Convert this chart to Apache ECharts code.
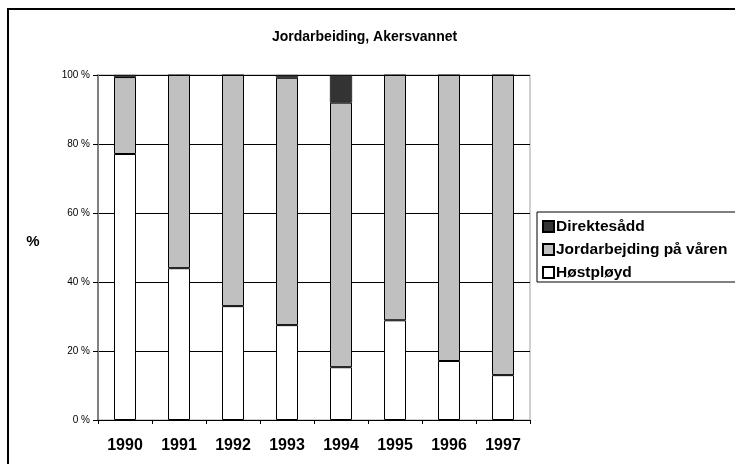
<!DOCTYPE html>
<html>
<head>
<meta charset="utf-8">
<script src="https://cdn.jsdelivr.net/npm/echarts@6/dist/echarts.min.js"></script>
<style>
  html, body { margin: 0; padding: 0; background: #fff; }
  #chart { width: 735px; height: 464px; }
</style>
</head>
<body>
<div id="chart"></div>
<script>
var years = ['1990', '1991', '1992', '1993', '1994', '1995', '1996', '1997'];
var hostployd = [77.1, 44.0, 33.0, 27.5, 15.3, 28.9, 17.1, 13.0];
var varen = [22.3, 56.0, 67.0, 71.7, 76.7, 71.1, 82.9, 87.0];
var direktesadd = [0.6, 0, 0, 0.8, 8.0, 0, 0, 0];
var yTicks = [0, 20, 40, 60, 80, 100];

var myChart = echarts.init(document.getElementById('chart'));

var font = 'Liberation Sans, Arial, sans-serif';
var barBorder = { borderColor: '#000', borderWidth: 1 };

var option = {
    animation: false,
    backgroundColor: '#fff',
    title: {
        text: 'Jordarbeiding, Akersvannet',
        left: 272,
        top: 30,
        padding: 0,
        textStyle: { fontFamily: font, fontSize: 14, fontWeight: 'bold', color: '#000' }
    },
    legend: {
        orient: 'vertical',
        left: 542,
        top: 218,
        padding: 0,
        itemWidth: 11,
        itemHeight: 11,
        itemGap: 6,
        icon: 'rect',
        data: ['Direktesådd', 'Jordarbejding på våren', 'Høstpløyd'],
        textStyle: {
            fontFamily: font, fontSize: 15.5, fontWeight: 'bold', color: '#000',
            lineHeight: 17, padding: [0, 0, 0, -3]
        }
    },
    grid: {
        left: 98,
        top: 75,
        right: 205,
        bottom: 44,
        show: true,
        borderColor: '#a0a0a0',
        borderWidth: 1
    },
    xAxis: {
        type: 'category',
        data: years,
        axisLine: { lineStyle: { color: '#000', width: 1 } },
        axisTick: { show: true, length: 4, inside: false, lineStyle: { color: '#000' } },
        axisLabel: { fontFamily: font, fontSize: 16, fontWeight: 'bold', color: '#000', margin: 18 }
    },
    yAxis: {
        type: 'value',
        min: 0,
        max: 100,
        interval: 20,
        axisLine: { show: true, lineStyle: { color: '#808080', width: 2 } },
        axisTick: { show: true, length: 5, lineStyle: { color: '#000' } },
        axisLabel: {
            fontFamily: font, fontSize: 10, color: '#000', margin: 8,
            formatter: function (v) { return yTicks.indexOf(v) >= 0 ? v + ' %' : ''; }
        },
        splitLine: { show: true, lineStyle: { color: '#000', width: 1 } }
    },
    series: [
        {
            name: 'Høstpløyd', type: 'bar', stack: 'a', barWidth: 22, data: hostployd,
            itemStyle: Object.assign({ color: '#ffffff' }, barBorder)
        },
        {
            name: 'Jordarbejding på våren', type: 'bar', stack: 'a', barWidth: 22, data: varen,
            itemStyle: Object.assign({ color: '#c0c0c0' }, barBorder)
        },
        {
            name: 'Direktesådd', type: 'bar', stack: 'a', barWidth: 22, data: direktesadd,
            itemStyle: { color: '#333333', borderColor: '#000', borderWidth: 0.5 }
        }
    ],
    graphic: [
        {
            type: 'rect', z: 100,
            shape: { x: 8, y: 9, width: 740, height: 470 },
            style: { fill: 'none', stroke: '#000', lineWidth: 2 }
        },
        {
            type: 'rect', z: -1,
            shape: { x: 537, y: 212, width: 210, height: 70 },
            style: { fill: '#fff', stroke: '#000', lineWidth: 1 }
        },
        {
            type: 'text', x: 33, y: 242,
            style: {
                text: '%', fontFamily: font, fontSize: 15, fontWeight: 'bold', fill: '#000',
                textAlign: 'center', textVerticalAlign: 'middle'
            }
        }
    ]
};

myChart.setOption(option);
</script>
</body>
</html>
